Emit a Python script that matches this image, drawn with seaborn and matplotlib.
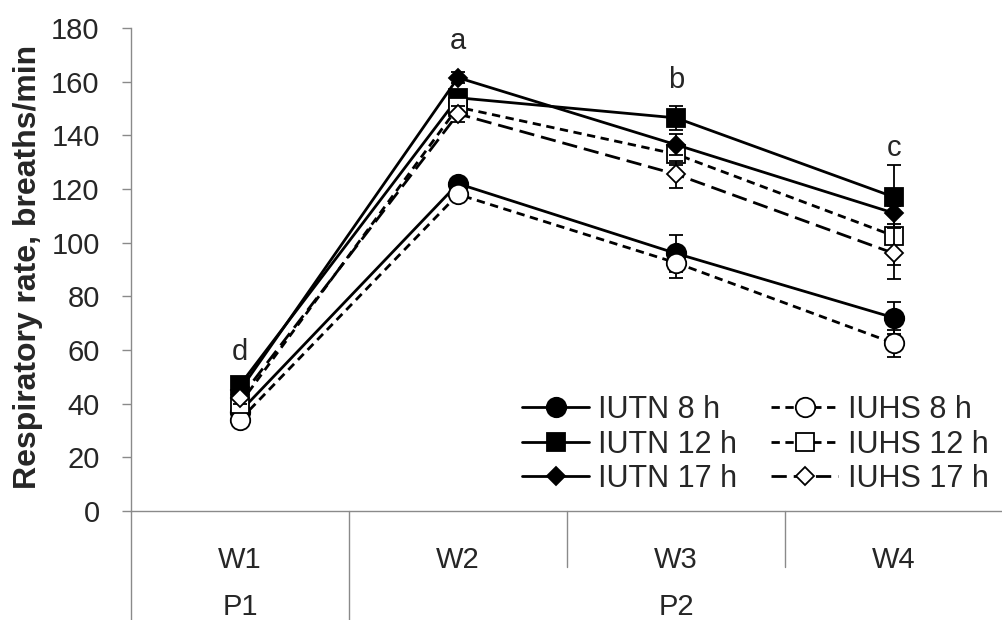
import numpy as np
import pandas as pd
import matplotlib
matplotlib.use("Agg")
import matplotlib.pyplot as plt
import matplotlib.transforms as mtransforms
import seaborn as sns

# ---- data ----
weeks = ["W1", "W2", "W3", "W4"]
periods = ["P1", "P2"]
period_spans = [(0, 0), (1, 3)]

iutn_8 = [37, 122, 96, 72]
iutn_8_err = [2, 2, 7, 6]
iuhs_8 = [34, 118, 92.5, 62.5]
iuhs_8_err = [2, 2, 5.5, 5]
iutn_12 = [47, 154, 146.5, 117]
iutn_12_err = [2, 3, 4.5, 12]
iuhs_12 = [40, 150.5, 133, 102.5]
iuhs_12_err = [2, 3, 4, 11]
iutn_17 = [45, 161.5, 136.5, 111]
iutn_17_err = [2, 2, 4, 4]
iuhs_17 = [42, 148, 125.5, 96]
iuhs_17_err = [2, 3, 5, 9.5]

sig_letters = ["d", "a", "b", "c"]
sig_y = [56.4, 172.3, 157.8, 132.3]

yticks = list(range(0, 181, 20))

# ---- style ----
sns.set_style("white")
plt.rcParams["font.family"] = ["Liberation Sans", "DejaVu Sans"]

fig = plt.figure(figsize=(10.03, 6.2), dpi=100)
ax = fig.add_axes([131 / 1003, 1 - 511 / 620, 872 / 1003, 483 / 620])

short_dash = (0, (3, 2))
long_dash = (0, (5.5, 2.5))

series = [
    # label, values, errors, marker, size, facecolor, linestyle, zorder
    ("IUTN 8 h", iutn_8, iutn_8_err, "o", 14, "black", "-", 3),
    ("IUTN 12 h", iutn_12, iutn_12_err, "s", 13, "black", "-", 5),
    ("IUTN 17 h", iutn_17, iutn_17_err, "D", 9.5, "black", "-", 7),
    ("IUHS 8 h", iuhs_8, iuhs_8_err, "o", 14, "white", short_dash, 4),
    ("IUHS 12 h", iuhs_12, iuhs_12_err, "s", 13, "white", short_dash, 6),
    ("IUHS 17 h", iuhs_17, iuhs_17_err, "D", 9.5, "white", long_dash, 8),
]

for label, vals, errs, mk, ms, fc, ls, z in series:
    df = pd.DataFrame({"week": weeks, "value": vals})
    ax.errorbar(weeks, vals, yerr=errs, fmt="none", ecolor="black",
                elinewidth=1.3, capsize=5, capthick=1.3, zorder=z)
    sns.lineplot(data=df, x="week", y="value", ax=ax, color="black",
                 linewidth=2.0, linestyle=ls, marker=mk, markersize=ms,
                 markerfacecolor=fc, markeredgecolor="black",
                 markeredgewidth=1.3, label=label, zorder=z + 0.5,
                 sort=False)

for w, letter, yv in zip(weeks, sig_letters, sig_y):
    ax.text(w, yv, letter, ha="center", va="baseline", fontsize=21, zorder=20)

ax.set_xlim(-0.5, 3.5)
ax.set_ylim(0, 180)
ax.set_yticks(yticks)
ax.set_xlabel("")
ax.set_ylabel("Respiratory rate, breaths/min", fontsize=23, fontweight="bold")
ax.yaxis.set_label_coords(-0.101, 0.506)

spine_c = "#8a8a8a"
for s in ["top", "right"]:
    ax.spines[s].set_visible(False)
for s in ["left", "bottom"]:
    ax.spines[s].set_color(spine_c)
    ax.spines[s].set_linewidth(1.0)

ax.tick_params(axis="y", direction="out", length=6.5, width=1.0,
               color=spine_c, labelsize=21, pad=16, left=True)
ax.tick_params(axis="x", length=0, labelsize=21, pad=25)

# category separators and period labels
trans = mtransforms.blended_transform_factory(ax.transData, ax.transAxes)
bottom_full = -(620 - 511) / 483
bottom_short = -(567 - 511) / 483
for xb, yb in [(-0.5, bottom_full), (0.5, bottom_full), (1.5, bottom_short), (2.5, bottom_short)]:
    ax.plot([xb, xb], [0, yb], transform=trans, color=spine_c, lw=1.0, clip_on=False)

p_y = -(607 - 511) / 483
for p, (a, b) in zip(periods, period_spans):
    ax.text((a + b) / 2, p_y, p, transform=trans, ha="center", va="center", fontsize=21)

handles, labels = ax.get_legend_handles_labels()
ax.legend(handles, labels, ncol=2, frameon=False, fontsize=22,
          loc="upper left", bbox_to_anchor=(522 / 1003, 1 - 395 / 620),
          bbox_transform=fig.transFigure, borderpad=0, borderaxespad=0,
          handlelength=2.2, handletextpad=0.3, columnspacing=1.1,
          labelspacing=0.15, numpoints=1)

fig.savefig("out.png", dpi=100)
